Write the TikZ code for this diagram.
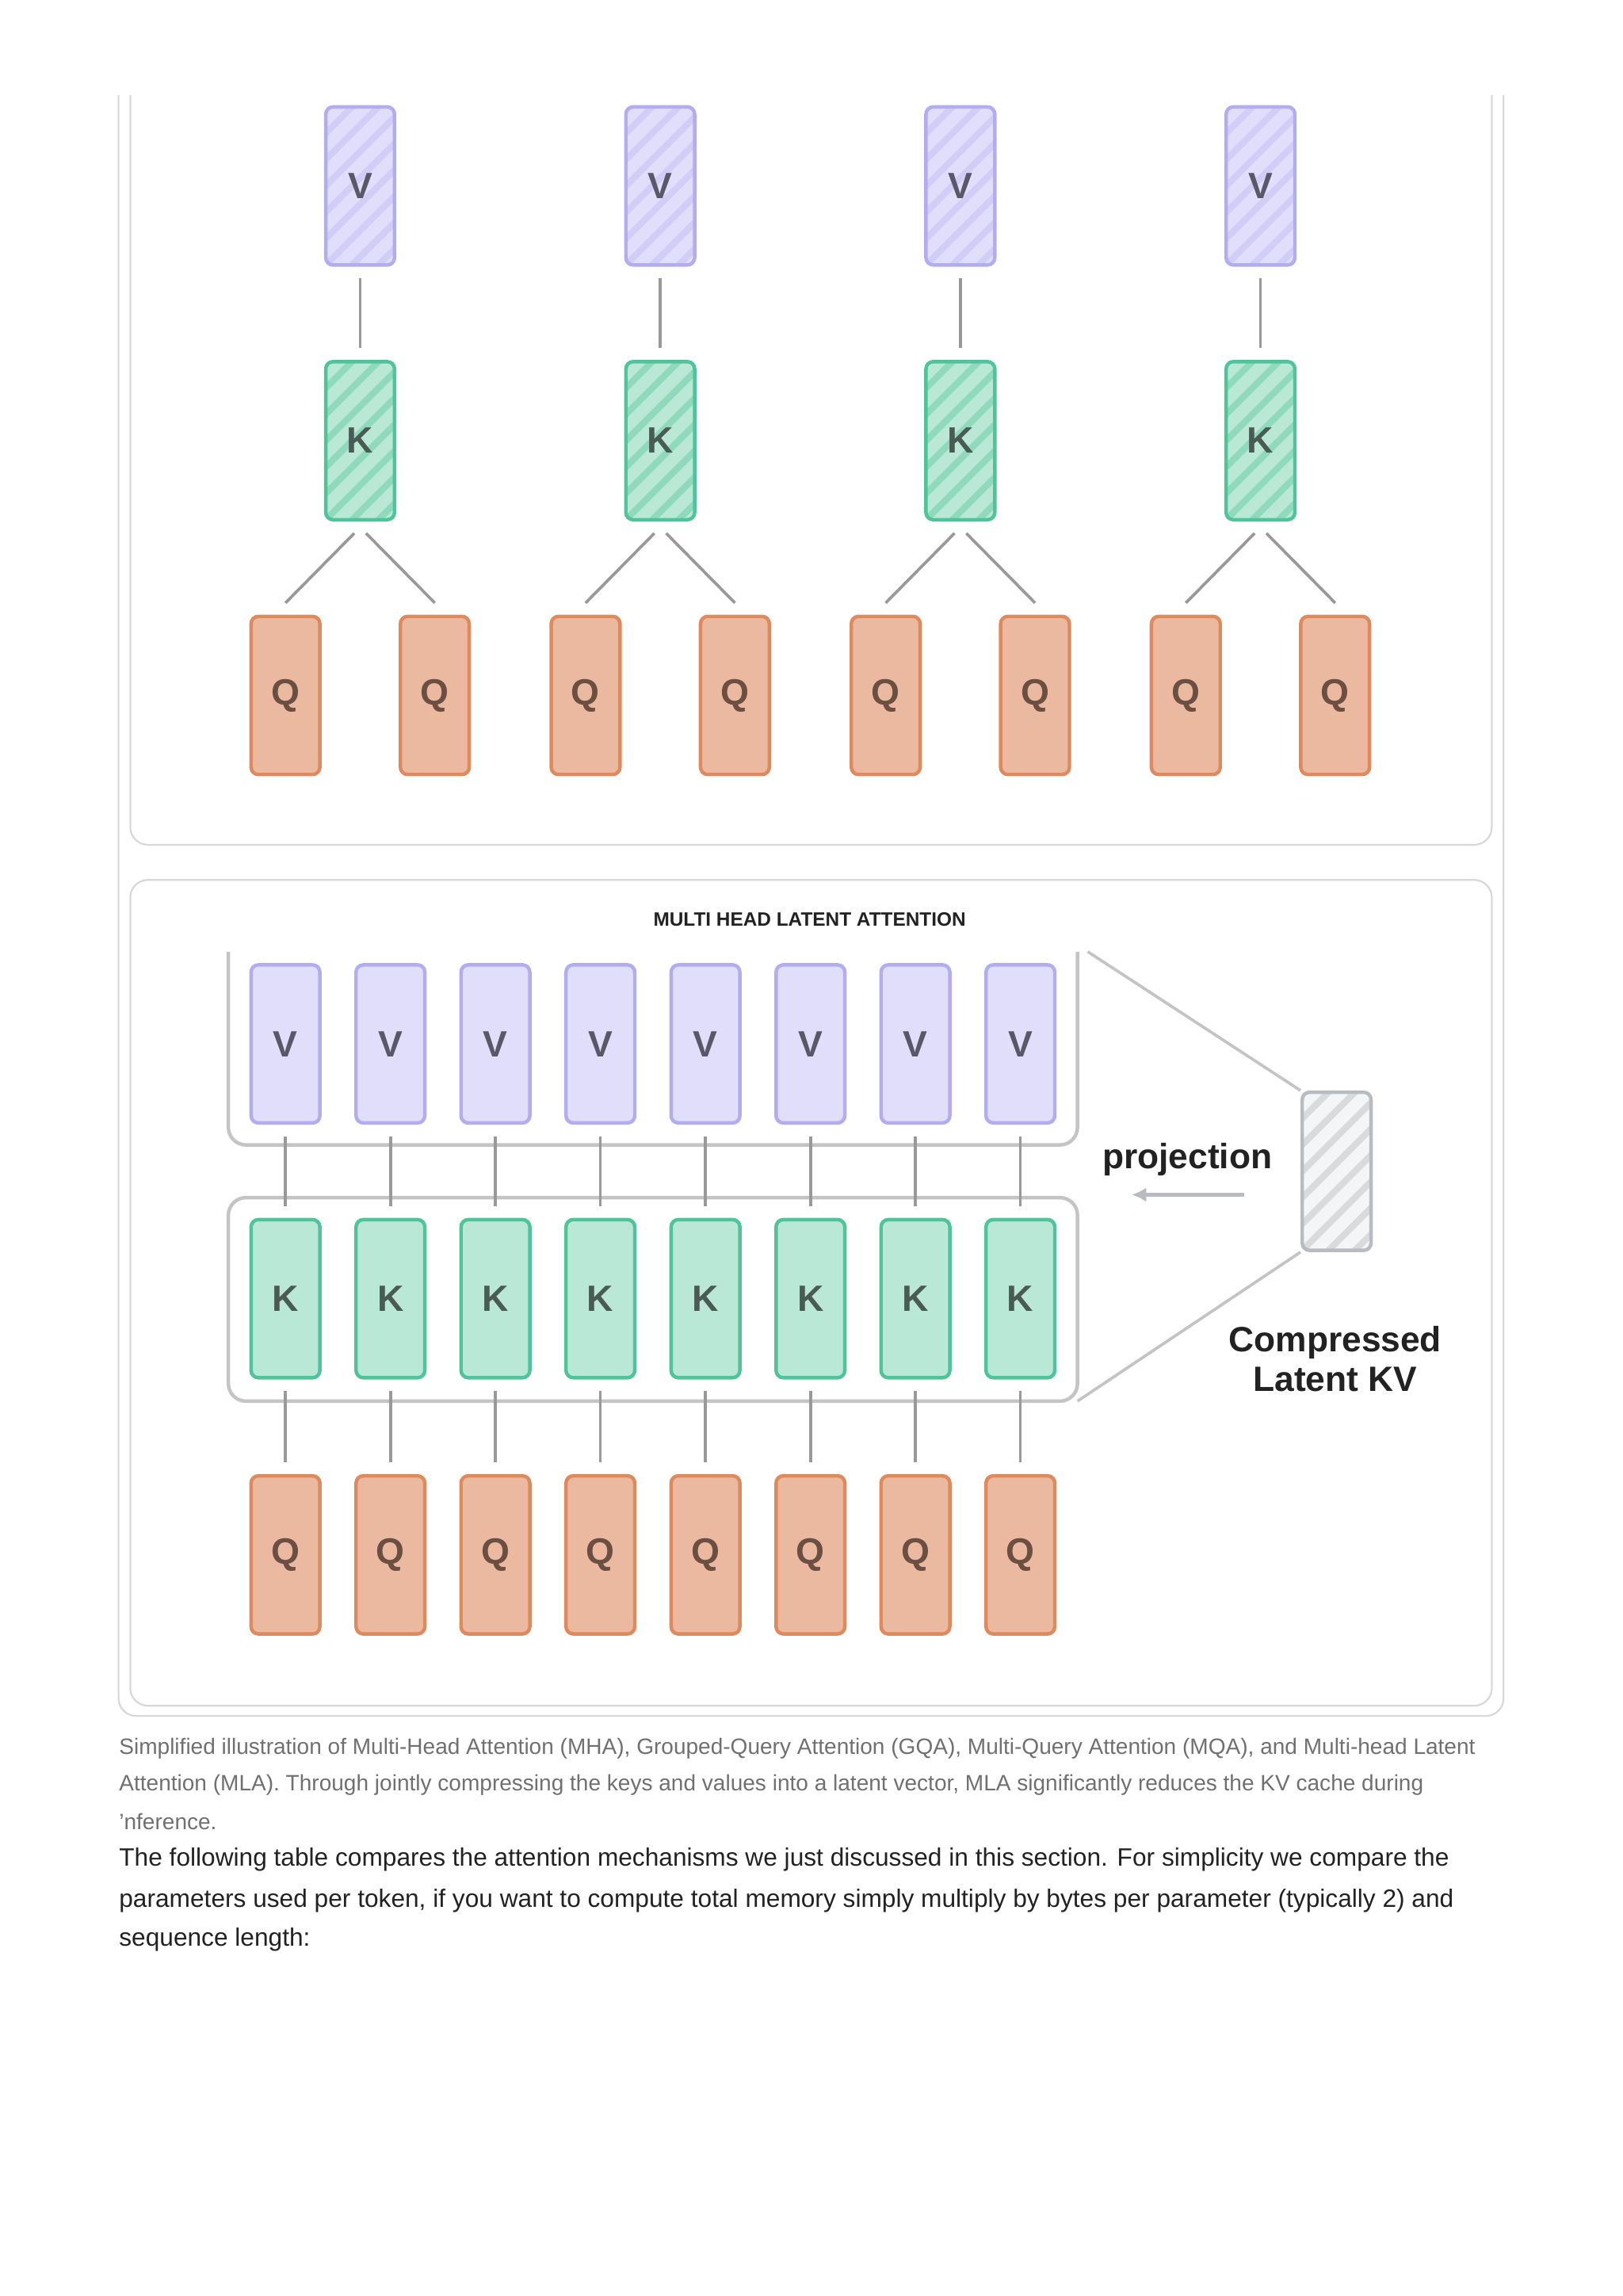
\documentclass[tikz,border=0pt]{standalone}
\usepackage{fontspec}
\usetikzlibrary{arrows.meta}
\setmainfont{Liberation Sans}
\begin{document}
\begin{tikzpicture}[x=0.5pt,y=-0.5pt,
  box/.style={draw, line width=1.2pt, rounded corners=2.5pt, minimum width=23.5pt, minimum height=54pt, inner sep=0pt, font=\bfseries\fontsize{12.5}{12.5}\selectfont},
  hatch/.style={path picture={\foreach \i in {-8,...,4} \draw[line width=2.2pt,#1] ([xshift=\i*9pt]path picture bounding box.south west) -- ++(70pt,70pt);}},
  vbox/.style={box, fill=vfill, draw=vdraw, text=vtext},
  kbox/.style={box, fill=kfill, draw=kdraw, text=ktext},
  qbox/.style={box, fill=qfill, draw=qdraw, text=qtext},
  conn/.style={draw=conncol, line width=1pt},
  frame/.style={draw=framecol, line width=0.6pt, rounded corners=6pt},
  grp/.style={draw=grpcol, line width=1.2pt, rounded corners=6pt}]
\definecolor{vfill}{HTML}{E0DEFA}\definecolor{vdraw}{HTML}{B4ACF0}\definecolor{vtext}{HTML}{585868}
\definecolor{kfill}{HTML}{B9E8D6}\definecolor{kdraw}{HTML}{4FC49A}\definecolor{ktext}{HTML}{4A5A55}
\definecolor{qfill}{HTML}{EBB9A0}\definecolor{qdraw}{HTML}{DE8A5C}\definecolor{qtext}{HTML}{6B4F42}
\definecolor{conncol}{HTML}{999999}\definecolor{framecol}{HTML}{D8D8D8}\definecolor{grpcol}{HTML}{C4C4C4}
\definecolor{latfill}{HTML}{F4F5F6}\definecolor{latdraw}{HTML}{B8BCC0}
\definecolor{khatch}{HTML}{8FD9BD}
\definecolor{captcol}{HTML}{707070}\definecolor{bodycol}{HTML}{222222}
\useasboundingbox (0,0) rectangle (1108.6,1568.2);
% frames
\path[frame] (81,65) -- (81,1172) -- (1027,1172) -- (1027,65);
\path[frame] (89,65) -- (89,577) -- (1019,577) -- (1019,65);
\path[frame] (89,601) rectangle (1019,1165);
% top section
\foreach \g/\c/\qa/\qb in {1/246/195/297, 2/451/400/502, 3/656/605/707, 4/861/810/912}{
  \node[vbox, hatch=vdraw!60] (v\g) at (\c,127) {V};
  \node[kbox, hatch=khatch] (k\g) at (\c,301) {K};
  \node[qbox] (qa\g) at (\qa,475) {Q};
  \node[qbox] (qb\g) at (\qb,475) {Q};
  \draw[conn] ([yshift=-4pt]v\g.south) -- ([yshift=4pt]k\g.north);
  \draw[conn] ([xshift=-2pt,yshift=-4pt]k\g.south) -- ([yshift=4pt]qa\g.north);
  \draw[conn] ([xshift=2pt,yshift=-4pt]k\g.south) -- ([yshift=4pt]qb\g.north);
}
% MLA
\node[font=\bfseries\fontsize{6.6}{7}\selectfont, text=bodycol] (title) at (553,628) {MULTI HEAD LATENT ATTENTION};
\path[grp] (156,650) -- (156,782) -- (736,782) -- (736,650);
\draw[grp] (156,818) rectangle (736,957);
\foreach \i/\c in {1/195,2/266.7,3/338.4,4/410.1,5/481.9,6/553.6,7/625.3,8/697}{
  \node[vbox] (mv\i) at (\c,713) {V};
  \node[kbox] (mk\i) at (\c,887) {K};
  \node[qbox] (mq\i) at (\c,1062) {Q};
  \draw[conn] ([yshift=-4pt]mv\i.south) -- ([yshift=4pt]mk\i.north);
  \draw[conn] ([yshift=-4pt]mk\i.south) -- ([yshift=4pt]mq\i.north);
}
\node[box, fill=latfill, draw=latdraw, hatch=latdraw!55] (lat) at (913,800) {};
\coordinate (gtop) at (743,650);
\coordinate (gbot) at (736,957);
\draw[grpcol, line width=1pt] (gtop) -- (lat.north west);
\draw[grpcol, line width=1pt] (gbot) -- (lat.south west);
\node[font=\bfseries\fontsize{12}{12}\selectfont, text=bodycol] (proj) at (811,792) {projection};
\coordinate (arrs) at (850,816);
\coordinate (arre) at (773,816);
\draw[latdraw, line width=1.2pt, -{Latex[length=5pt,width=5pt]}] (arrs) -- (arre);
\node[font=\bfseries\fontsize{12}{13.5}\selectfont, text=bodycol, align=center] (comp) at (912,928) {Compressed\\Latent KV};
% caption
\begin{scope}[every node/.style={anchor=west, inner sep=0pt, text=captcol, font=\fontsize{7.59}{8}\selectfont}]
\node (c1) at (81,1194) {Simplified illustration of Multi-Head Attention (MHA), Grouped-Query Attention (GQA), Multi-Query Attention (MQA), and Multi-head Latent};
\node (c2) at (81,1219) {Attention (MLA). Through jointly compressing the keys and values into a latent vector, MLA significantly reduces the KV cache during};
\node (c3) at (81,1244) {'nference.};
\end{scope}
\begin{scope}[every node/.style={anchor=west, inner sep=0pt, text=bodycol, font=\fontsize{8.57}{9}\selectfont}]
\node (b1) at (81,1270) {The following table compares the attention mechanisms we just discussed in this section. For simplicity we compare the};
\node (b2) at (81,1298) {parameters used per token, if you want to compute total memory simply multiply by bytes per parameter (typically 2) and};
\node (b3) at (81,1325) {sequence length:};
\end{scope}
\end{tikzpicture}
\end{document}
